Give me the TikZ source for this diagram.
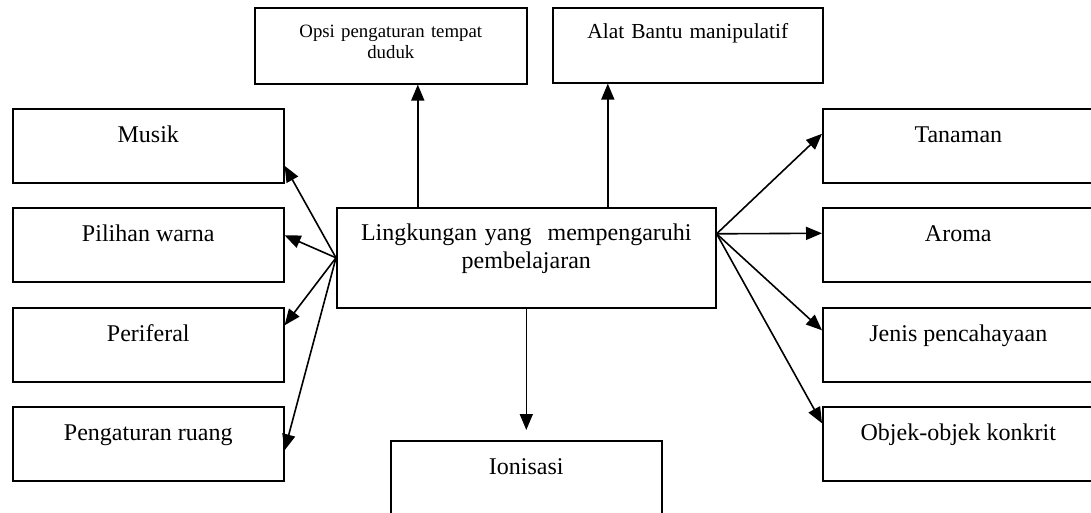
\documentclass[tikz,border=0pt]{standalone}
\usepackage{fontspec}
\setmainfont{Liberation Serif}
\usetikzlibrary{arrows.meta, positioning}

\begin{document}
\begin{tikzpicture}[
    x=0.5pt, y=-0.5pt,
    link/.style={-{Triangle[length=8pt, width=6.5pt]}, line width=0.8pt},
    itembox/.style={rectangle, draw, line width=0.8pt, anchor=north west,
                minimum width=135.5pt, inner xsep=2pt, inner ysep=0pt,
                text height=16.75pt, text depth=20.25pt,
                font=\fontsize{12}{14}\selectfont},
    hubbox/.style={rectangle, draw, line width=0.8pt, anchor=north west,
                text width=185.5pt, align=center, inner xsep=2pt, inner ysep=0pt,
                text height=16.5pt, text depth=33.5pt,
                font=\fontsize{12}{14}\selectfont},
    topbox/.style={rectangle, draw, line width=0.8pt, anchor=north west,
                text width=132pt, align=center, inner xsep=2pt, inner ysep=0pt},
]
\useasboundingbox (0,0) rectangle (1091,513);
\node[hubbox] (hub) at (336,207) {Lingkungan yang\ \ mempengaruhi\\pembelajaran};
\node[topbox, text height=15pt, text depth=23pt,
      font=\fontsize{9.4}{10.5}\selectfont] (opsi) at (254,7)
    {Opsi pengaturan tempat\\duduk};
\node[topbox, text width=131pt, text height=15.5pt, text depth=22pt,
      font=\fontsize{10.7}{13}\selectfont] (alat) at (552,7)
    {Alat Bantu manipulatif};
\node[itembox] (musik)   at (12,108) {Musik};
\node[itembox] (warna)   at (12,207) {Pilihan warna};
\node[itembox] (perifer) at (12,307) {Periferal};
\node[itembox] (ruang)   at (12,406) {Pengaturan ruang};
\node[itembox] (tanaman) at (822,108) {Tanaman};
\node[itembox] (aroma)   at (822,207) {Aroma};
\node[itembox] (cahaya)  at (822,307) {Jenis pencahayaan};
\node[itembox] (objek)   at (822,406) {Objek-objek konkrit};
\node[itembox] (ion)     at (390,440) {Ionisasi};
\coordinate (upL) at ([xshift=-54.25pt]hub.north);
\coordinate (upR) at ([xshift=40.75pt]hub.north);
\coordinate (fan) at ([yshift=12pt]hub.east);
\draw[link] (upL) -- (upL |- opsi.south);
\draw[link] (upR) -- (upR |- alat.south);
\draw[link] (hub.west) -- ([yshift=-10pt]musik.east);
\draw[link] (hub.west) -- ([yshift=4.75pt]warna.east);
\draw[link] (hub.west) -- ([yshift=9.75pt]perifer.east);
\draw[link] (hub.west) -- ([yshift=-3.25pt]ruang.east);
\draw[link] (fan) -- ([yshift=6pt]tanaman.west);
\draw[link] (fan) -- ([yshift=5.75pt]aroma.west);
\draw[link] (fan) -- ([yshift=7.25pt]cahaya.west);
\draw[link] (fan) -- ([yshift=10.25pt]objek.west);
\draw[link, shorten >=5pt] (hub.south) -- (ion.north);
\end{tikzpicture}
\end{document}
